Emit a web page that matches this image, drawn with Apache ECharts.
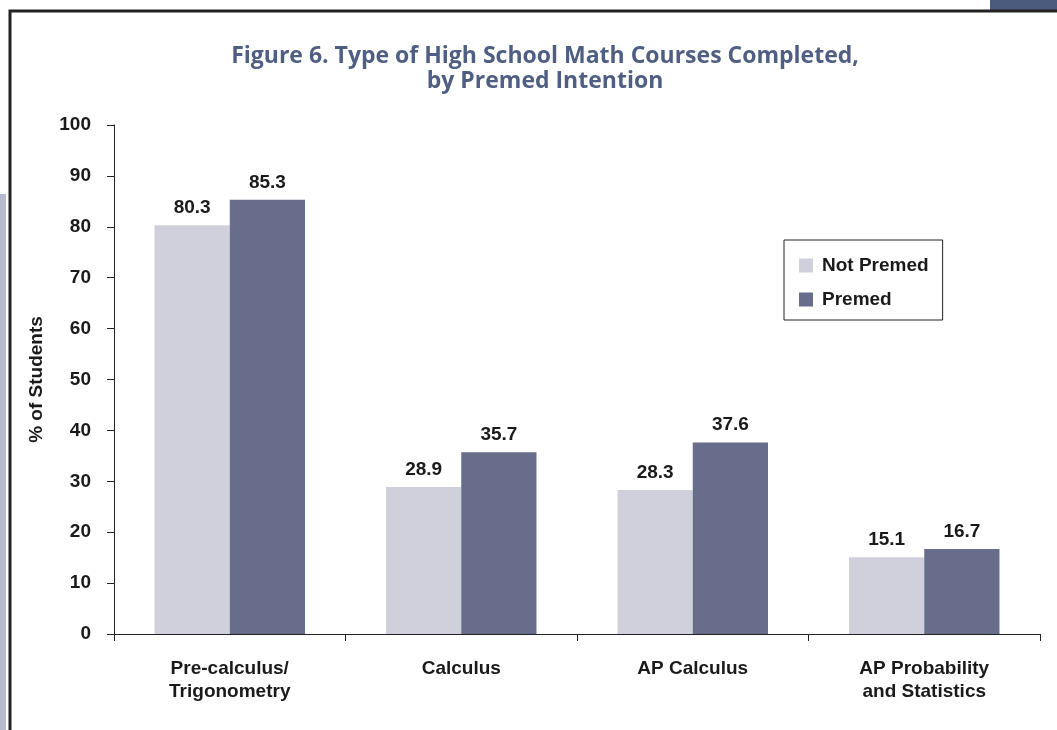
<!DOCTYPE html>
<html>
<head>
<meta charset="utf-8">
<script src="https://cdn.jsdelivr.net/npm/echarts@6/dist/echarts.min.js"></script>
<style>
  html, body { margin: 0; padding: 0; background: #fff; }
  #chart { width: 1057px; height: 730px; }
</style>
</head>
<body>
<div id="chart"></div>
<script>
// data
var categories = ['Pre-calculus/\nTrigonometry', 'Calculus', 'AP Calculus', 'AP Probability\nand Statistics']
var notPremed = [80.3, 28.9, 28.3, 15.1]
var premed = [85.3, 35.7, 37.6, 16.7]

var chart = echarts.init(document.getElementById('chart'))

var labelStyle = {
  show: true,
  position: 'top',
  distance: 8,
  color: '#1a1a1a',
  fontFamily: 'Liberation Sans',
  fontWeight: 'bold',
  fontSize: 19
}

chart.setOption({
  animation: false,
  title: {
    text: 'Figure 6. Type of High School Math Courses Completed,\nby Premed Intention',
    left: 540,
    textAlign: 'center',
    top: 39,
    textStyle: {
      color: '#4f5f83',
      fontFamily: 'Open Sans',
      fontWeight: 'bold',
      fontSize: 23,
      lineHeight: 25
    }
  },
  legend: {
    orient: 'vertical',
    left: 784,
    top: 240,
    padding: [16, 14, 11, 15],
    backgroundColor: '#fff',
    borderColor: '#222',
    borderWidth: 1,
    itemWidth: 14,
    itemHeight: 14,
    itemGap: 15,
    icon: 'rect',
    textStyle: {
      color: '#1a1a1a',
      fontFamily: 'Liberation Sans',
      fontWeight: 'bold',
      fontSize: 19,
      padding: [0, 0, 0, 4]
    },
    data: ['Not Premed', 'Premed']
  },
  grid: { left: 114, right: 17, top: 125, bottom: 96 },
  xAxis: {
    type: 'category',
    data: categories,
    axisLine: { lineStyle: { color: '#222', width: 1 } },
    axisTick: { show: true, length: 7, lineStyle: { color: '#222' } },
    axisLabel: {
      interval: 0,
      margin: 23,
      color: '#1a1a1a',
      fontFamily: 'Liberation Sans',
      fontWeight: 'bold',
      fontSize: 19,
      lineHeight: 23
    }
  },
  yAxis: {
    type: 'value',
    min: 0,
    max: 100,
    interval: 10,
    name: '% of Students',
    nameLocation: 'middle',
    nameGap: 68,
    nameRotate: 90,
    nameTextStyle: {
      color: '#1a1a1a',
      fontFamily: 'Liberation Sans',
      fontWeight: 'bold',
      fontSize: 19
    },
    axisLine: { show: true, lineStyle: { color: '#222', width: 1 } },
    axisTick: { show: true, length: 7, lineStyle: { color: '#222' } },
    splitLine: { show: false },
    axisLabel: {
      margin: 23,
      color: '#1a1a1a',
      fontFamily: 'Liberation Sans',
      fontWeight: 'bold',
      fontSize: 19
    }
  },
  series: [
    {
      name: 'Not Premed',
      type: 'bar',
      data: notPremed,
      barGap: '0%',
      barCategoryGap: '35%',
      itemStyle: { color: '#cfd0dc' },
      label: labelStyle
    },
    {
      name: 'Premed',
      type: 'bar',
      data: premed,
      itemStyle: { color: '#676d8a' },
      label: labelStyle
    }
  ],
  graphic: [
    // page frame around the figure
    { type: 'rect', shape: { x: 990, y: 0, width: 67, height: 10 }, style: { fill: '#4b5b7e' } },
    { type: 'rect', shape: { x: 0, y: 194, width: 6, height: 536 }, style: { fill: '#b9bacd' } },
    { type: 'polyline', shape: { points: [[10, 730], [10, 11], [1057, 11]] }, style: { stroke: '#222', lineWidth: 3, fill: null } }
  ]
})
</script>
</body>
</html>
